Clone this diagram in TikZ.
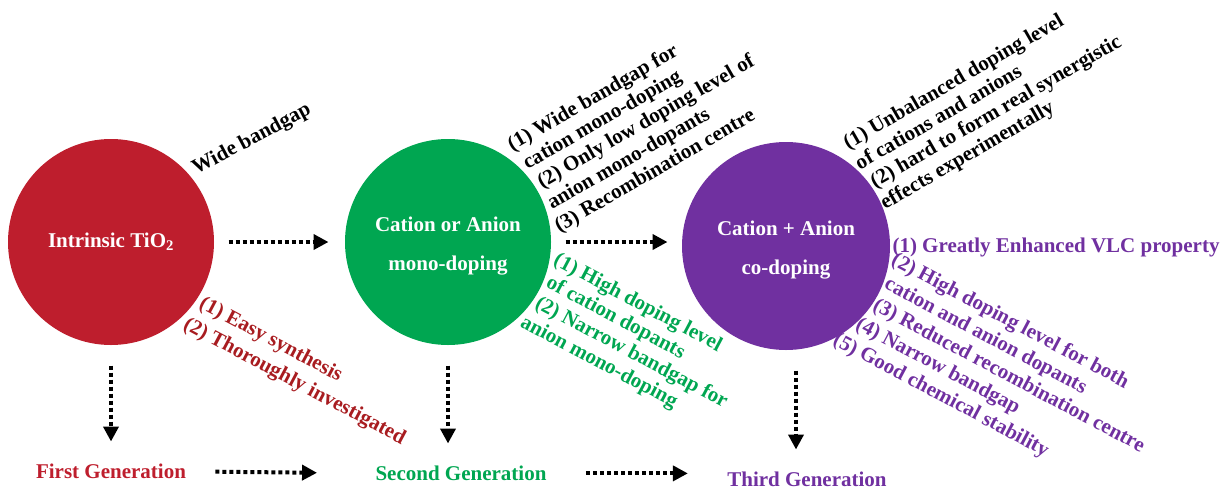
\documentclass[tikz,border=0pt]{standalone}
\usepackage{fontspec}
\setmainfont{Liberation Serif}
\usetikzlibrary{positioning, chains, arrows.meta}
\definecolor{firstred}{RGB}{190,30,45}
\definecolor{firsttext}{RGB}{168,28,32}
\definecolor{secondgreen}{RGB}{0,166,81}
\definecolor{thirdpurple}{RGB}{112,48,160}
\newcommand{\ind}[1]{\hspace*{#1pt}}
\tikzset{
every picture/.style={
line width=1pt
}}

\begin{document}
\begin{tikzpicture}[x=1pt, y=1pt,
stage/.style = {circle, minimum size=206pt, inner sep=0pt, align=center, text=white, font=\fontsize{21}{39}\selectfont\bfseries},
gen/.style = {font=\fontsize{21}{25}\selectfont\bfseries, inner sep=0pt},
note/.style = {font=\fontsize{21}{23.5}\selectfont\bfseries, align=left, inner sep=0pt, anchor=base west},
flow/.style = {line width=4pt, dash pattern=on 4pt off 3pt, -{Triangle[length=15pt, width=15pt]}},
node distance = 130pt,
start chain= c going right]

  \useasboundingbox (0,0) rectangle (1223,-488);

  \node[stage, on chain, fill=firstred] at (111,-242) {Intrinsic TiO\textsubscript{2}};
  \node[stage, on chain, fill=secondgreen] {\rule{0pt}{22pt}Cation or Anion\\mono-doping};
  \node[stage, on chain, fill=thirdpurple, minimum size=208pt, yshift=-4pt] {\rule{0pt}{22pt}Cation + Anion\\co-doping};

  \node (g1) [gen, text=firstred, below=118pt of c-1] {First Generation};
  \node (g2) [gen, text=secondgreen, below=120pt of c-2, xshift=13pt] {Second Generation};
  \node (g3) [gen, text=thirdpurple, below=121pt of c-3, xshift=21pt] {Third Generation};

  \draw[flow, shorten <=14pt, shorten >=16pt] (c-1.east) -- (c-2.west);
  \draw[flow, shorten <=14pt, shorten >=14pt] (c-2.east) -- (c-2.east -| c-3.west);
  \draw[flow, shorten <=20pt, shorten >=22pt] (c-1.south) -- (c-1.south |- g1.north);
  \draw[flow, shorten <=20pt, shorten >=22pt] (c-2.south) -- (c-2.south |- g2.north);
  \draw[flow, shorten <=20pt, shorten >=22pt] ([xshift=10pt]c-3.south) -- ([xshift=10pt]c-3.south |- g3.north);
  \draw[flow, shorten <=29pt, shorten >=58pt] (g1.east) -- (g2.west);
  \draw[flow, shorten <=39pt, shorten >=39pt] (g2.east) -- (g2.east -| g3.west);

  \node (wide) [note, rotate=28] at (196,-175) {Wide bandgap};
  \node (easy) [note, rotate=-28, text=firsttext, font=\fontsize{21}{26}\selectfont\bfseries] at (182,-328) {\ind{4}(1) Easy synthesis\\(2) Thoroughly investigated};
  \node (monobad) [note, rotate=30] at (559,-233) {(1) Wide bandgap for\\\ind{4}cation mono-doping\\\ind{7}(2) Only low doping level of\\\ind{5}anion mono-dopants\\(3) Recombination centre};
  \node (monogood) [note, rotate=-28, text=secondgreen] at (519,-326) {(1) High doping level\\\ind{4}of cation dopants\\\ind{4}(2) Narrow bandgap for\\anion mono-doping};
  \node (cobad) [note, rotate=30] at (883,-211) {(1) Unbalanced doping level\\of cations and anions\\\ind{4}(2) hard to form real synergistic\\\ind{2}effects experimentally};
  \node (vlc) [note, text=thirdpurple] at (892,-252) {(1) Greatly Enhanced VLC property};
  \node (cogood) [note, rotate=-28, text=thirdpurple, font=\fontsize{21}{24.5}\selectfont\bfseries] at (831.6,-343.7) {\ind{14}(2) High doping level for both\\\ind{19}cation and anion dopants\\\ind{19}(3) Reduced recombination centre\\\ind{12.5}(4) Narrow bandgap\\(5) Good chemical stability};

\end{tikzpicture}
\end{document}
